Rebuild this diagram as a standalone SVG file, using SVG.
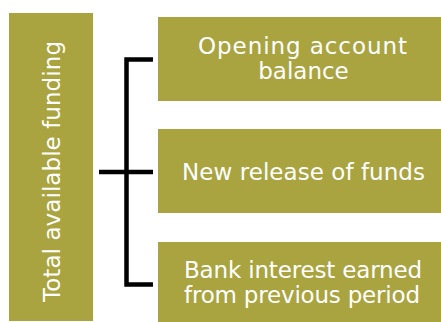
<svg xmlns="http://www.w3.org/2000/svg" width="441" height="322" viewBox="0 0 441 322">
<style>
.box{fill:#A9A43F;}
.t{font-family:"DejaVu Sans",sans-serif;font-size:23px;fill:#FFFFFF;text-anchor:middle;}
.ln{fill:none;stroke:#000;stroke-width:4.5;}
</style>
<rect width="441" height="322" fill="#FFFFFF"/>
<g id="total">
<rect class="box" x="9" y="13" width="84" height="308"/>
<text class="t" transform="translate(60,171.5) rotate(-90)" textLength="261" lengthAdjust="spacing">Total available funding</text>
</g>
<g id="connectors">
<path class="ln" d="M153,59.5 H126.5 V284.5 H153"/>
<path class="ln" d="M99,172 H153"/>
</g>
<g id="opening">
<rect class="box" x="158" y="17" width="290" height="84"/>
<text class="t" x="302.5" y="54" textLength="209" lengthAdjust="spacing">Opening account</text>
<text class="t" x="303.5" y="79">balance</text>
</g>
<g id="release">
<rect class="box" x="158" y="129" width="290" height="84"/>
<text class="t" x="303.5" y="180" textLength="243" lengthAdjust="spacing">New release of funds</text>
</g>
<g id="interest">
<rect class="box" x="158" y="242" width="290" height="90"/>
<text class="t" x="303" y="278" textLength="238" lengthAdjust="spacing">Bank interest earned</text>
<text class="t" x="302" y="303" textLength="236" lengthAdjust="spacing">from previous period</text>
</g>
</svg>
